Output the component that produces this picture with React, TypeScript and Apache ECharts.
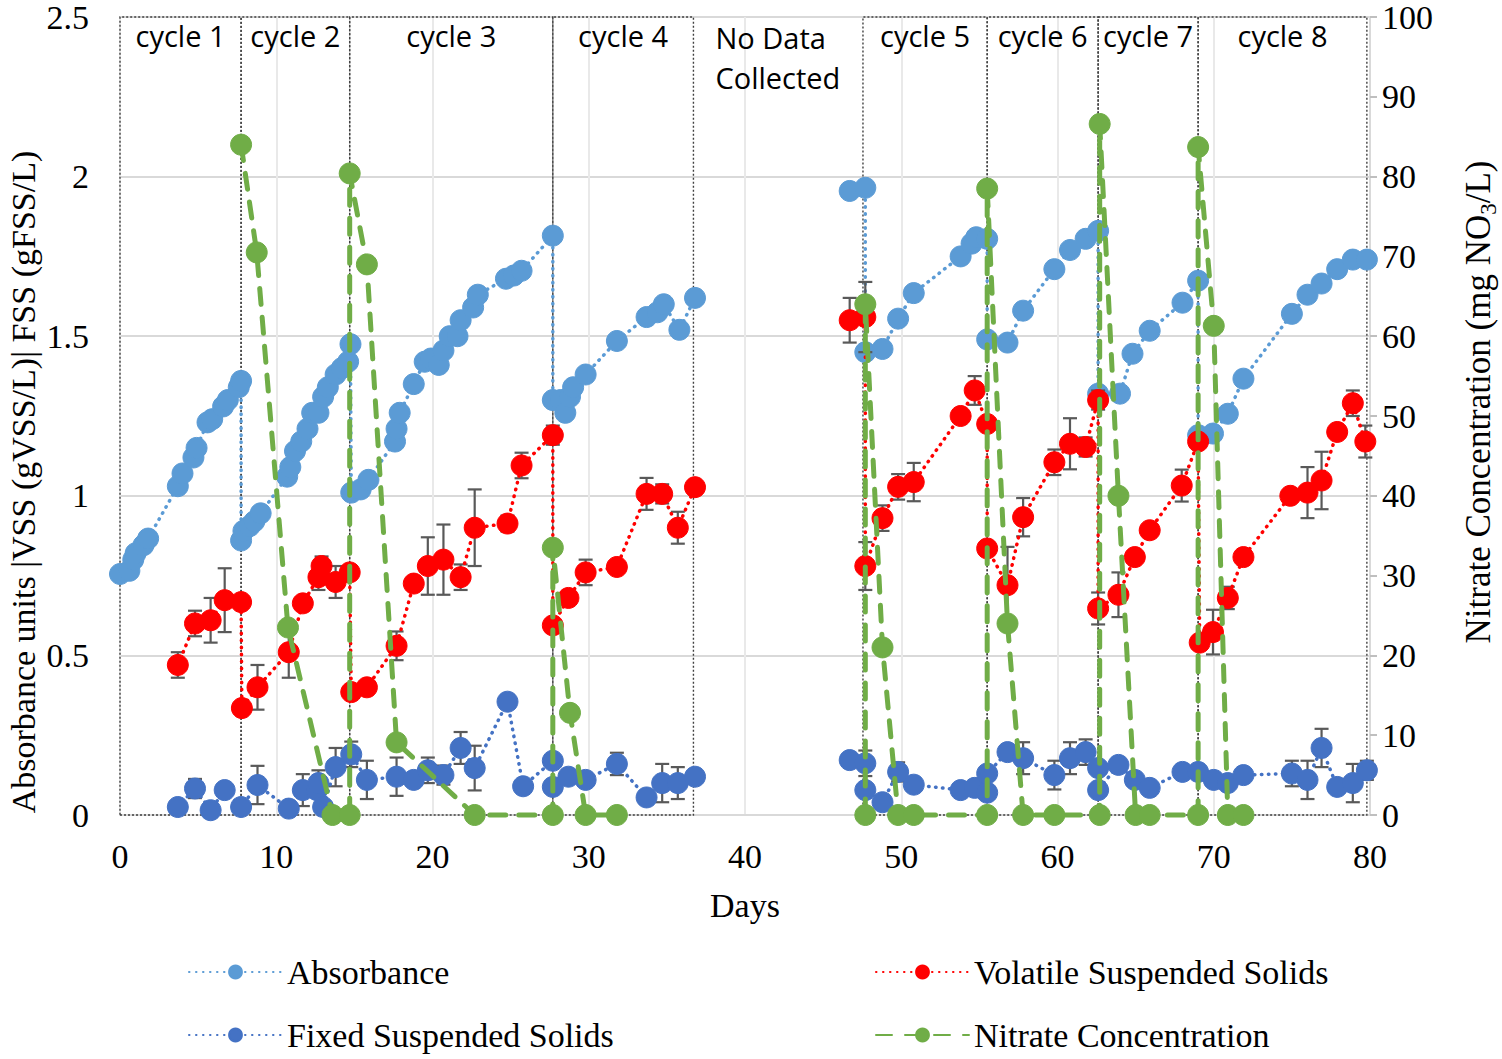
import React, { useEffect, useRef } from "react";
import * as echarts from "echarts";

// ---------- data (days, value[, error]) ----------
const absorbance: (number | string)[][] = [
  [0, 0.755], [0.6, 0.765], [0.85, 0.8], [1.0, 0.82], [1.5, 0.845], [1.8, 0.866],
  [3.7, 1.03], [4.0, 1.07], [4.7, 1.12], [4.9, 1.15], [5.6, 1.23], [5.9, 1.24], [6.6, 1.28], [6.9, 1.3], [7.6, 1.34], [7.75, 1.36],
  [7.75, 0.86], [7.9, 0.89], [8.3, 0.905], [8.6, 0.92], [9.0, 0.945], [10.7, 1.06], [10.9, 1.09], [11.2, 1.14], [11.6, 1.17], [12.0, 1.21], [12.3, 1.26], [12.7, 1.26], [13.0, 1.31], [13.3, 1.34], [13.8, 1.38], [14.2, 1.4], [14.6, 1.42], [14.75, 1.475],
  [14.8, 1.01], [15.4, 1.02], [15.9, 1.05], [17.6, 1.17], [17.7, 1.21], [17.9, 1.26], [18.8, 1.35], [19.5, 1.42], [19.9, 1.43], [20.4, 1.41], [20.7, 1.455], [21.1, 1.5], [21.6, 1.5], [21.8, 1.55], [22.6, 1.59], [22.9, 1.63], [24.7, 1.68], [25.2, 1.69], [25.7, 1.705], [27.7, 1.815],
  [27.7, 1.3], [28.2, 1.3], [28.5, 1.26], [28.8, 1.31], [29.0, 1.34], [29.8, 1.38], [31.8, 1.485], [33.7, 1.56], [34.4, 1.575], [34.8, 1.6], [35.8, 1.52], [36.8, 1.62],
  [42, "-"],
  [46.7, 1.955], [47.7, 1.965], [47.7, 1.45], [48.8, 1.46], [49.8, 1.555], [50.8, 1.635], [53.8, 1.75], [54.5, 1.79], [54.8, 1.81], [55.5, 1.805],
  [55.5, 1.49], [56.8, 1.48], [57.8, 1.58], [59.8, 1.71], [60.8, 1.77], [61.8, 1.805], [62.6, 1.83],
  [62.6, 1.32], [64.0, 1.32], [64.8, 1.445], [65.9, 1.517], [68.0, 1.605], [69.0, 1.674],
  [69.0, 1.19], [69.95, 1.195], [70.9, 1.257], [71.9, 1.367], [75.0, 1.57], [76.0, 1.63], [76.9, 1.665], [77.9, 1.71], [78.9, 1.74], [79.8, 1.74],
];

const vss: (number | string)[][] = [
  [3.7, 0.47, 0.04], [4.8, 0.6, 0.04], [5.8, 0.61, 0.07], [6.7, 0.673, 0.1], [7.75, 0.667, 0],
  [7.8, 0.335, 0], [8.8, 0.4, 0.07], [10.8, 0.51, 0.08], [11.7, 0.663, 0], [12.7, 0.745, 0.04], [12.9, 0.78, 0.03], [13.8, 0.73, 0.05], [14.7, 0.76, 0],
  [14.8, 0.385, 0], [15.8, 0.4, 0], [17.7, 0.53, 0.045], [18.8, 0.725, 0], [19.7, 0.78, 0.09], [20.7, 0.8, 0.11], [21.8, 0.745, 0.04], [22.7, 0.9, 0.12], [24.8, 0.913, 0.025], [25.7, 1.095, 0.04], [27.7, 1.19, 0.03],
  [27.7, 0.594, 0], [28.7, 0.68, 0], [29.8, 0.76, 0.04], [31.8, 0.777, 0], [33.7, 1.006, 0.05], [34.7, 1.006, 0.03], [35.7, 0.9, 0.05], [36.8, 1.027, 0],
  [42, "-", 0],
  [46.7, 1.55, 0.07], [47.7, 1.56, 0.11],
  [47.7, 0.78, 0.075], [48.8, 0.93, 0.04], [49.8, 1.028, 0.04], [50.8, 1.043, 0.06], [53.8, 1.25, 0], [54.7, 1.33, 0.045], [55.5, 1.225, 0],
  [55.5, 0.835, 0], [56.8, 0.72, 0.12], [57.8, 0.933, 0.06], [59.8, 1.105, 0.04], [60.8, 1.163, 0.08], [61.8, 1.153, 0.03], [62.6, 1.3, 0.03],
  [62.6, 0.647, 0.05], [63.9, 0.69, 0.07], [64.95, 0.808, 0], [65.9, 0.892, 0], [67.95, 1.032, 0.05], [69.0, 1.17, 0],
  [69.1, 0.54, 0], [69.95, 0.573, 0.07], [70.9, 0.68, 0.035], [71.9, 0.808, 0], [74.9, 1.0, 0], [76.0, 1.01, 0.08], [76.9, 1.048, 0.09], [77.9, 1.2, 0], [78.9, 1.29, 0.04], [79.7, 1.17, 0.05],
];

const fss: (number | string)[][] = [
  [3.7, 0.025, 0], [4.8, 0.083, 0.03], [5.8, 0.015, 0], [6.7, 0.078, 0], [7.75, 0.025, 0],
  [8.8, 0.094, 0.06], [10.8, 0.02, 0], [11.7, 0.078, 0.05], [12.6, 0.078, 0], [12.7, 0.1, 0.04], [13.0, 0.025, 0], [13.8, 0.15, 0.06], [14.8, 0.19, 0.04],
  [15.8, 0.11, 0.06], [17.7, 0.12, 0.06], [18.8, 0.11, 0], [19.7, 0.14, 0.04], [20.7, 0.125, 0.03], [21.8, 0.21, 0.05], [22.7, 0.147, 0.07], [24.8, 0.355, 0.02], [25.8, 0.09, 0], [27.7, 0.17, 0],
  [27.7, 0.088, 0], [28.7, 0.12, 0], [29.8, 0.11, 0], [31.8, 0.16, 0.035], [33.7, 0.055, 0], [34.7, 0.1, 0.06], [35.7, 0.1, 0.05], [36.8, 0.12, 0],
  [42, "-", 0],
  [46.7, 0.172, 0.02], [47.7, 0.162, 0.04], [47.7, 0.078, 0], [48.8, 0.04, 0], [49.8, 0.135, 0.03], [50.8, 0.095, 0], [53.8, 0.078, 0], [54.7, 0.085, 0], [55.5, 0.07, 0],
  [55.5, 0.13, 0], [56.8, 0.197, 0], [57.8, 0.178, 0.05], [59.8, 0.125, 0.045], [60.8, 0.178, 0.05], [61.8, 0.197, 0.04], [62.6, 0.147, 0],
  [62.6, 0.078, 0], [63.9, 0.157, 0], [64.95, 0.11, 0], [65.9, 0.085, 0], [68.0, 0.135, 0], [69.0, 0.135, 0],
  [70.0, 0.11, 0], [70.9, 0.1, 0], [71.9, 0.125, 0], [75.0, 0.13, 0.04], [76.0, 0.11, 0.06], [76.9, 0.21, 0.06], [77.9, 0.088, 0], [78.9, 0.1, 0.06], [79.8, 0.14, 0.03],
];

const nitrate: (number | string)[][] = [
  [7.75, 84], [8.75, 70.5], [10.75, 23.5], [13.6, 0], [14.7, 0],
  [14.7, 80.4], [15.8, 69], [17.7, 9.1], [22.7, 0], [27.7, 0],
  [27.7, 33.5], [28.8, 12.8], [29.8, 0], [31.8, 0],
  [42, "-"],
  [47.7, 0], [47.7, 64], [48.8, 21], [49.8, 0], [50.8, 0], [55.5, 0],
  [55.5, 78.5], [56.8, 24], [57.8, 0], [59.8, 0], [62.7, 0],
  [62.7, 86.6], [63.9, 40], [65.0, 0], [65.9, 0], [69.0, 0],
  [69.0, 83.7], [70.0, 61.3], [70.9, 0], [71.9, 0],
];

const cycleNames = ["cycle 1", "cycle 2", "cycle 3", "cycle 4", "cycle 5", "cycle 6", "cycle 7", "cycle 8"];
const cycleStart = [0, 7.75, 14.7, 27.7, 47.55, 55.5, 62.6, 69.0];
const cycleEnd = [7.75, 14.7, 27.7, 36.7, 55.5, 62.6, 69.0, 79.8];
const noDataRange = [36.7, 47.55];
const noDataText = "No Data\nCollected";

const seriesNames = ["Absorbance", "Volatile Suspended Solids", "Fixed Suspended Solids", "Nitrate Concentration"];
const colors = ["#5B9BD5", "#FF0000", "#4472C4", "#70AD47"];

const SERIF = "'Liberation Serif', 'Times New Roman', serif";
const SANS = "'Open Sans', 'Noto Sans', sans-serif";

function errorBarSeries(data: (number | string)[][], z: number) {
  const rows = data.filter((d) => typeof d[1] === "number" && (d[2] as number) > 0);
  return {
    type: "custom",
    xAxisIndex: 0,
    yAxisIndex: 0,
    z,
    silent: true,
    data: rows,
    encode: { x: 0, y: 1 },
    renderItem: (_params: any, api: any) => {
      const x = api.value(0);
      const y = api.value(1);
      const e = api.value(2);
      const top = api.coord([x, y + e]);
      const bot = api.coord([x, y - e]);
      const style = { stroke: "#595959", lineWidth: 2.2 };
      const cap = 7;
      return {
        type: "group",
        children: [
          { type: "line", shape: { x1: top[0], y1: top[1], x2: bot[0], y2: bot[1] }, style },
          { type: "line", shape: { x1: top[0] - cap, y1: top[1], x2: top[0] + cap, y2: top[1] }, style },
          { type: "line", shape: { x1: bot[0] - cap, y1: bot[1], x2: bot[0] + cap, y2: bot[1] }, style },
        ],
      };
    },
  };
}

function lineSeries(name: string, data: (number | string)[][], color: string, yAxisIndex: number, dash: number[], width: number, size: number, z: number) {
  return {
    name,
    type: "line",
    xAxisIndex: 0,
    yAxisIndex,
    z,
    data: data.map((d) => [d[0], d[1]]),
    symbol: "circle",
    symbolSize: size,
    showSymbol: true,
    connectNulls: false,
    clip: false,
    itemStyle: { color, borderColor: color, borderWidth: 1 },
    lineStyle: { color, width, type: dash, cap: "round" },
    emphasis: { disabled: true },
  };
}

function legendItem(name: string, left: number, top: number) {
  return {
    data: [name],
    orient: "horizontal",
    left,
    top,
    itemWidth: 93,
    itemHeight: 16,
    textStyle: { color: "#000", fontFamily: SERIF, fontSize: 34 },
    selectedMode: false,
  };
}

export default function App() {
  const ref = useRef<HTMLDivElement>(null);
  useEffect(() => {
    if (!ref.current) return;
    const chart = echarts.init(ref.current, undefined, { renderer: "svg" });

    const boxAreas = cycleNames.map((n, i) => [
      {
        xAxis: cycleStart[i],
        yAxis: 0,
        name: n,
        itemStyle: { color: "rgba(0,0,0,0)", borderColor: "#404040", borderWidth: 1.4, borderType: [2, 2] },
        label: { show: true, position: "insideTop", distance: 5, formatter: n, fontFamily: SANS, fontSize: 29, color: "#000" },
      },
      { xAxis: cycleEnd[i], yAxis: 2.5 },
    ]);
    const noData = [
      {
        xAxis: noDataRange[0],
        yAxis: 0,
        itemStyle: { color: "rgba(0,0,0,0)", borderWidth: 0 },
        label: {
          show: true,
          position: "insideTopLeft",
          distance: 5,
          offset: [17, -5],
          formatter: noDataText,
          fontFamily: SANS,
          fontSize: 29,
          lineHeight: 40,
          color: "#000",
          align: "left",
        },
      },
      { xAxis: noDataRange[1], yAxis: 2.5 },
    ];

    chart.setOption({
      animation: false,
      backgroundColor: "#fff",
      grid: { left: 120, right: 132, top: 15, bottom: 244, containLabel: false },
      xAxis: {
        type: "value",
        min: 0,
        max: 80,
        interval: 10,
        axisLine: { show: true, lineStyle: { color: "#d9d9d9", width: 2 } },
        axisTick: { show: false },
        axisLabel: { color: "#000", fontFamily: SERIF, fontSize: 34, margin: 24 },
        splitLine: { show: true, lineStyle: { color: "#e9e9e9", width: 2 } },
        name: "Days",
        nameLocation: "middle",
        nameGap: 73,
        nameTextStyle: { color: "#000", fontFamily: SERIF, fontSize: 34 },
      },
      yAxis: [
        {
          type: "value",
          min: 0,
          max: 2.5,
          interval: 0.5,
          axisLine: { show: false },
          axisTick: { show: false },
          axisLabel: { color: "#000", fontFamily: SERIF, fontSize: 34, margin: 31 },
          splitLine: { show: true, lineStyle: { color: "#d9d9d9", width: 2 } },
        },
        {
          type: "value",
          min: 0,
          max: 100,
          interval: 10,
          position: "right",
          axisLine: { show: true, lineStyle: { color: "#d9d9d9", width: 2 } },
          axisTick: { show: true, length: 7, lineStyle: { color: "#bfbfbf", width: 2 } },
          axisLabel: { color: "#000", fontFamily: SERIF, fontSize: 34, margin: 12 },
          splitLine: { show: false },
        },
      ],
      legend: [
        legendItem(seriesNames[0], 183, 950),
        legendItem(seriesNames[2], 183, 1013),
        legendItem(seriesNames[1], 870, 950),
        legendItem(seriesNames[3], 870, 1013),
      ],
      graphic: [
        {
          type: "text",
          x: 23,
          y: 482,
          rotation: Math.PI / 2,
          style: {
            text: "Absorbance units |VSS (gVSS/L)| FSS (gFSS/L)",
            fontFamily: SERIF,
            fontSize: 34,
            fill: "#000",
            align: "center",
            verticalAlign: "middle",
          },
        },
        {
          type: "text",
          x: 1478,
          y: 402,
          rotation: Math.PI / 2,
          style: {
            text: "{a|Nitrate Concentration (mg NO}{b|3}{a|/L)}",
            align: "center",
            verticalAlign: "middle",
            rich: {
              a: { fontFamily: SERIF, fontSize: 35, fill: "#000", lineHeight: 44 },
              b: { fontFamily: SERIF, fontSize: 23, fill: "#000", lineHeight: 44, verticalAlign: "bottom" },
            },
          },
        },
      ],
      series: [
        {
          type: "line",
          name: "boxes",
          xAxisIndex: 0,
          yAxisIndex: 0,
          data: [],
          z: 1,
          silent: true,
          markArea: { silent: true, data: [...boxAreas, noData] },
        },
        lineSeries(seriesNames[0], absorbance, colors[0], 0, [0.5, 6.5], 3.5, 21, 3),
        errorBarSeries(vss, 4),
        lineSeries(seriesNames[1], vss, colors[1], 0, [0.5, 6.5], 3.5, 21, 5),
        errorBarSeries(fss, 6),
        lineSeries(seriesNames[2], fss, colors[2], 0, [0.5, 6.5], 3.5, 21, 7),
        lineSeries(seriesNames[3], nitrate, colors[3], 1, [16, 13], 5, 21, 8),
      ],
    });
    return () => chart.dispose();
  }, []);
  return <div ref={ref} style={{ position: "absolute", left: 0, top: 0, width: 1502, height: 1059 }} />;
}
